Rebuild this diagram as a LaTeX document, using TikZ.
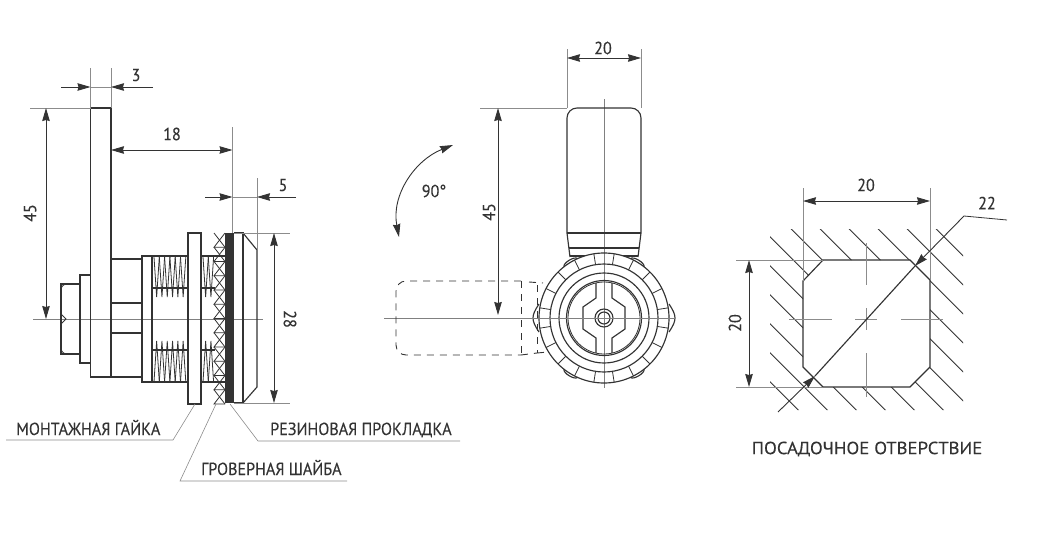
\documentclass[tikz,border=0pt]{standalone}
\usepackage{fontspec}
\setmainfont[FakeStretch=.92,FakeBold=.2]{PT Sans}
\newfontfamily\widefont[FakeStretch=1.07,FakeBold=.2]{PT Sans}
\usetikzlibrary{arrows.meta}
\definecolor{ink}{HTML}{333333}
\begin{document}
\begin{tikzpicture}[x=1pt,y=-1pt,
    every node/.style = {text=ink, font=\fontsize{17.5}{19}\selectfont, inner sep=0pt},
    part/.style = {draw=ink, line width=1.15pt},
    fine/.style = {draw=ink, line width=.8pt},
    thin line/.style = {draw=black!45, line width=.6pt},
    axis line/.style = {draw=black!50, line width=.8pt},
    dim/.style = {draw=ink, line width=.9pt,
      {Stealth[length=13pt,width=7.5pt,inset=1pt]}-{Stealth[length=13pt,width=7.5pt,inset=1pt]}},
    tip/.style = {draw=ink, line width=.9pt, -{Stealth[length=13pt,width=7.5pt,inset=1pt]}},
    hidden/.style = {draw=ink, line width=.9pt, dash pattern=on 7pt off 6pt}]
  \useasboundingbox (0,0) rectangle (1038,541);

  % side view
  \draw[axis line] (33,319) -- (263,319);
  \draw[part] (90.5,108) rectangle (111,377);
  \draw[part] (61,284) rectangle (80,354);
  \draw[part] (80,275) rectangle (90.5,363);
  \draw[fine] (61,290) arc[start angle=180,end angle=270,radius=6];
  \draw[fine] (61,348) arc[start angle=180,end angle=90,radius=6];
  \draw[fine] (61,314) .. controls (63,317) .. (66,319) .. controls (63,321) .. (61,324);
  \draw[part] (111,259) rectangle (142,377);
  \draw[part] (111,303) -- (142,303) (111,333) -- (142,333);
  \draw[part] (142,256) rectangle (188,382);
  \draw[part] (152,256) -- (152,382);
  \draw[part] (201,256) -- (225,256) (201,382) -- (225,382);
  \foreach \ya/\yb/\ym in {257/297/288, 382/341/350} {
    \foreach \xa in {154,159.3,...,182} {
      \draw[fine] (\xa,\ya) -- (\xa+2.65,\yb) -- (\xa+5.3,\ya);
    }
    \foreach \xa in {203,208.3} {
      \draw[fine] (\xa,\ya) -- (\xa+2.65,\yb) -- (\xa+5.3,\ya);
    }
    \draw[part] (153,\ym) -- (187,\ym) (202,\ym) -- (215,\ym);
  }
  \draw[part] (188,233) rectangle (201,404);
  % spring washer
  \foreach \ya in {233,247.25,...,390} {
    \draw[fine] (214,\ya) -- (225,\ya+14.25);
    \draw[fine] (225,\ya) -- (214,\ya+14.25) -- (225,\ya+14.25);
  }
  \fill[ink] (225,233) rectangle (234,403);
  \draw[part] (234,233) -- (243,233) -- (243,403) -- (234,403);
  \draw[part] (243,233) -- (257,250) -- (257,387) -- (243,403);

  \draw[thin line] (90.5,68) -- (90.5,108) (111,68) -- (111,108) (90.5,87) -- (111,87);
  \draw[tip] (61,87) -- (90.5,87);
  \draw[tip] (153,87) -- (111,87);
  \node (three) at (136,75) {3};
  \draw[thin line] (30,108) -- (90.5,108);
  \draw[dim] (46,108) -- (46,319);
  \node[rotate=90] (leverLen) at (30,213) {45};
  \draw[dim] (111,150) -- (232.5,150);
  \draw[thin line] (232.5,127) -- (232.5,233) (257,178) -- (257,250) (232.5,197) -- (257,197);
  \node (depth) at (172,134) {18};
  \draw[tip] (205,197) -- (232.5,197);
  \draw[tip] (296,197) -- (257,197);
  \node (capLen) at (283,185) {5};
  \draw[thin line] (234,233) -- (290,233) (234,403) -- (290,403);
  \draw[dim] (274,233) -- (274,403);
  \node[rotate=-90] (capDia) at (290,319) {28};

  \node[anchor=base west] (nutLabel) at (16,435) {МОНТАЖНАЯ ГАЙКА};
  \node[anchor=base west] (rubberLabel) at (270,435) {РЕЗИНОВАЯ ПРОКЛАДКА};
  \node[anchor=base west] (washerLabel) at (201,475) {ГРОВЕРНАЯ ШАЙБА};
  \draw[thin line] (195,404) -- (173,440) -- (6,440);
  \draw[thin line] (230,404) -- (258,441) -- (460,441);
  \draw[thin line] (216,404) -- (180,481) -- (347,481);

  % front view
  \coordinate (hub) at (604,318);
  \draw[axis line] (604,99) -- (604,388);
  \draw[part, rounded corners=10pt] (567,233) -- (567,108) -- (641,108) -- (641,233);
  \draw[part, line width=1.5pt] (567,233) -- (641,233);
  \draw[part] (567,233) -- (570,257) (641,233) -- (638,257);
  \draw[part] (569,248) -- (639,248);
  \draw[part] (570,256) -- (638,256);
  \fill[white] (hub) circle[radius=65];
  \draw[axis line] (604,250) -- (604,388);
  \draw[part] (hub) circle[radius=65];
  \draw[part] (hub) circle[radius=54];
  \draw[part] (hub) circle[radius=45];
  \draw[part] (hub) circle[radius=37.5];
  \draw[fine] (hub) circle[radius=36];
  \draw[part] (hub) circle[radius=9];
  \draw[part] (hub) circle[radius=6];
  \foreach \a in {9,27,...,351} {
    \draw[fine] (hub) ++(\a:54 and -54) -- ++(\a:11 and -11);
  }
  \foreach \a/\b in {114/128,52/66,-128/-114,-66/-52} {
    \draw[part] (hub) ++(\a:65 and -65) .. controls +(\a+20:4 and -4) and +(\b-20:4 and -4) .. ([shift={(\b:65 and -65)}]hub);
  }
  \draw[part] (539,304) .. controls (535,310) and (533,314) .. (533,318) .. controls (533,322) and (535,326) .. (539,332);
  \draw[part] (669,304) .. controls (673,310) and (675,314) .. (675,318) .. controls (675,322) and (673,326) .. (669,332);
  \foreach \s in {-1,1} {
    \draw[part] ([shift={(\s*8,-35)}]hub) -- ++(0,15) -- ++(\s*13,9) -- ++(0,22) -- ++(-\s*13,9) -- ++(0,15);
  }
  \draw[axis line] (384,318) -- (675,318);
  \draw[hidden, rounded corners=10pt] (521,281) -- (396,281) -- (396,355) -- (521,355);
  \draw[hidden] (521,281) -- (521,355);
  \draw[hidden] (529,282) -- (543,283);
  \draw[hidden] (537,285) -- (537,353);
  \draw[hidden] (521,355) -- (537,353);
  \draw[hidden] (537,353) -- (548,352);

  \draw[thin line] (480,108) -- (567,108) (567,49) -- (567,108) (641,49) -- (641,108);
  \draw[dim] (498,108) -- (498,315);
  \node[rotate=90] (turnLen) at (489,212) {45};
  \draw[dim] (567,58) -- (641,58);
  \node (leverWide) at (603,48) {20};
  \draw[dim] (399,237) .. controls (391,195) and (415,160) .. (453,145);
  \node (turnAngle) at (434,191) {90°};

  % mounting hole
  \begin{scope}[even odd rule]
    \clip (770,229) rectangle (963,410)
      (823,260) -- (910,260) -- (930,280) -- (930,367) -- (910,387) -- (823,387) -- (803,367) -- (803,281) -- cycle;
    \foreach \k in {-9,...,2} {
      \draw[fine] (649.3+29*\k+200,200) -- (649.3+29*\k+450,450);
    }
  \end{scope}
  \draw[part] (823,260) -- (910,260) -- (930,280) -- (930,367) -- (910,387) -- (823,387) -- (803,367) -- (803,281) -- cycle;
  \draw[thin line] (866,243) -- (866,285) (866,308) -- (866,330) (866,353) -- (866,397);
  \draw[thin line] (789,319.3) -- (832,319.3) (855,319.3) -- (877,319.3) (901,319.3) -- (943,319.3);
  \draw[thin line] (803,188) -- (803,281) (930,188) -- (930,280);
  \draw[thin line] (736,260) -- (823,260) (736,387) -- (823,387);
  \draw[dim] (803,201) -- (930,201);
  \node (holeWide) at (866,185) {20};
  \draw[dim] (749,260) -- (749,387);
  \node[rotate=90] (holeHigh) at (735,323) {20};
  \coordinate (tipA) at (915,266);
  \coordinate (tipB) at (815,376);
  \coordinate (bend) at (964,216);
  \coordinate (tail) at (778,412);
  \coordinate (bendEnd) at (1007,220);
  \draw[tip] (bend) -- (tipA);
  \draw[tip] (tail) -- (tipB);
  \draw[part] (tipA) -- (tipB);
  \draw[fine] (bend) -- (bendEnd);
  \node (holeDiag) at (987,203) {22};
  \node[font=\widefont\fontsize{17.5}{19}\selectfont] (holeLabel) at (867,449) {ПОСАДОЧНОЕ ОТВЕРСТВИЕ};
\end{tikzpicture}
\end{document}
